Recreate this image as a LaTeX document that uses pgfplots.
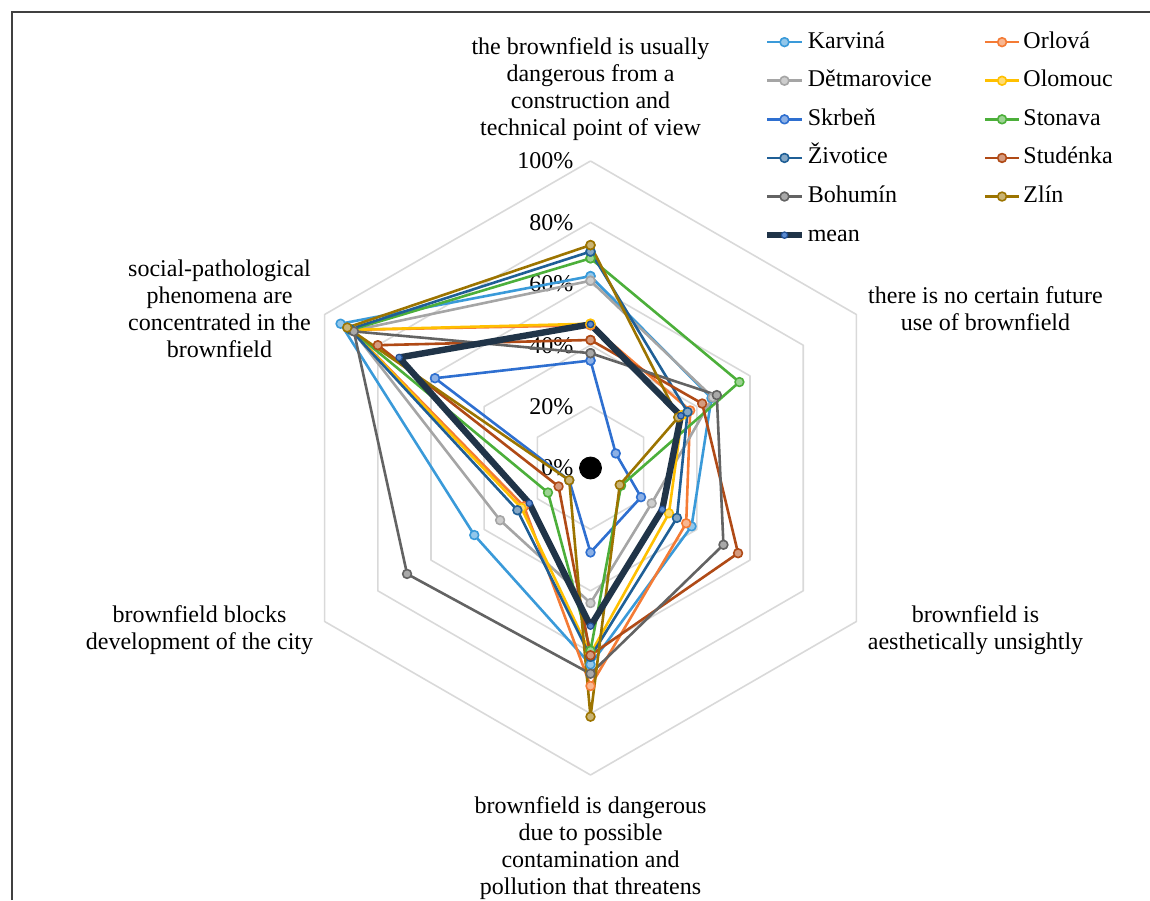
\documentclass[border=0pt]{standalone}
\usepackage{fontspec}
\setmainfont{Liberation Serif}
\usepackage{pgfplots}
\pgfplotsset{compat=1.18}
\usepgfplotslibrary{polar}
\usetikzlibrary{calc}

\definecolor{karv}{HTML}{3A9AD9}
\definecolor{orlo}{HTML}{F47B35}
\definecolor{detm}{HTML}{A5A5A5}
\definecolor{olom}{HTML}{FFC000}
\definecolor{skrb}{HTML}{2E6FD0}
\definecolor{ston}{HTML}{4CAF3A}
\definecolor{zivo}{HTML}{1F5F96}
\definecolor{stud}{HTML}{B04A16}
\definecolor{bohu}{HTML}{636363}
\definecolor{zlin}{HTML}{9C7400}
\definecolor{meanc}{HTML}{203448}
\definecolor{meanm}{HTML}{5B8BD0}
\definecolor{gridc}{HTML}{D9D9D9}

\pgfplotsset{
  ser/.style={#1, line width=1.3pt, line join=round, mark=*, mark size=2.2pt,
    mark options={fill=#1!55!white, draw=#1, line width=0.8pt}},
  ring/.style={gridc, line width=0.8pt, line join=round, no marks, forget plot},
}

\begin{document}
\begin{tikzpicture}[font=\fontsize{12}{13.5}\selectfont]
\begin{polaraxis}[
  width=307pt, height=307pt, scale only axis,
  ymin=0, ymax=100,
  hide axis, clip=false,
  legend columns=2,
  legend cell align=left,
  legend style={draw=none, fill=none, at={(0.7725,1.2268)}, anchor=north west,
    font=\fontsize{12}{13.5}\selectfont, row sep=3.3pt,
    nodes={inner xsep=1.5pt, inner ysep=2pt, text height=9pt, text depth=3pt},
    /tikz/every even column/.append style={column sep=24.5pt}},
]
% hexagonal grid
\addplot[ring] coordinates {(90,20)(30,20)(-30,20)(-90,20)(-150,20)(150,20)(90,20)};
\addplot[ring] coordinates {(90,40)(30,40)(-30,40)(-90,40)(-150,40)(150,40)(90,40)};
\addplot[ring] coordinates {(90,60)(30,60)(-30,60)(-90,60)(-150,60)(150,60)(90,60)};
\addplot[ring] coordinates {(90,80)(30,80)(-30,80)(-90,80)(-150,80)(150,80)(90,80)};
\addplot[ring] coordinates {(90,100)(30,100)(-30,100)(-90,100)(-150,100)(150,100)(90,100)};

% value labels, under the series
\node[anchor=east, xshift=-5pt] at (axis cs:90,0) {0\%};
\node[anchor=east, xshift=-5pt] at (axis cs:90,20) {20\%};
\node[anchor=east, xshift=-5pt] at (axis cs:90,40) {40\%};
\node[anchor=east, xshift=-5pt] at (axis cs:90,60) {60\%};
\node[anchor=east, xshift=-5pt] at (axis cs:90,80) {80\%};
\node[anchor=east, xshift=-5pt] at (axis cs:90,100) {100\%};

% axes order: top, upper right, lower right, bottom, lower left, upper left
\addplot[ser=karv] coordinates {(90,62.5)(30,45.5)(-30,38)(-90,64)(-150,43.7)(150,94)(90,62.5)};
\addlegendentry{Karviná}
\addplot[ser=orlo] coordinates {(90,46.5)(30,37.5)(-30,36)(-90,71)(-150,25)(150,90)(90,46.5)};
\addlegendentry{Orlová}
\addplot[ser=detm] coordinates {(90,61)(30,46)(-30,23)(-90,44)(-150,34)(150,89.5)(90,61)};
\addlegendentry{Dětmarovice}
\addplot[ser=olom] coordinates {(90,47)(30,34.5)(-30,29.5)(-90,60.5)(-150,26)(150,90)(90,47)};
\addlegendentry{Olomouc}
\addplot[ser=skrb] coordinates {(90,35)(30,9.5)(-30,19)(-90,27.5)(-150,8)(150,58.5)(90,35)};
\addlegendentry{Skrbeň}
\addplot[ser=ston] coordinates {(90,68.3)(30,56)(-30,11.5)(-90,59.5)(-150,16)(150,90)(90,68.3)};
\addlegendentry{Stonava}
\addplot[ser=zivo] coordinates {(90,70.5)(30,36.5)(-30,32.5)(-90,61.5)(-150,27.5)(150,90.5)(90,70.5)};
\addlegendentry{Životice}
\addplot[ser=stud] coordinates {(90,41.7)(30,42)(-30,55.5)(-90,61)(-150,12)(150,80)(90,41.7)};
\addlegendentry{Studénka}
\addplot[ser=bohu] coordinates {(90,37.4)(30,47.5)(-30,50)(-90,67)(-150,69)(150,89)(90,37.4)};
\addlegendentry{Bohumín}
\addplot[ser=zlin] coordinates {(90,72.6)(30,33)(-30,11)(-90,81)(-150,8)(150,91.5)(90,72.6)};
\addlegendentry{Zlín}
\addplot[meanc, line width=3.2pt, line join=round, mark=*, mark size=1.6pt,
  mark options={fill=meanm, draw=skrb!70!black, line width=0.6pt}]
  coordinates {(90,46.8)(30,34)(-30,27)(-90,51.5)(-150,23)(150,72)(90,46.8)};
\addlegendentry{mean}

\addplot[only marks, mark=*, black, mark size=5.5pt, forget plot] coordinates {(0,0)};
\coordinate (C) at (axis cs:0,0);
\end{polaraxis}

% category labels
\node[anchor=south, align=center] at ($(C)+(0pt,160pt)$)
  {the brownfield is usually\\dangerous from a\\construction and\\technical point of view};
\node[align=center] at ($(C)+(197.5pt,79.75pt)$)
  {there is no certain future\\use of brownfield};
\node[align=center] at ($(C)+(192.5pt,-81pt)$)
  {brownfield is\\aesthetically unsightly};
\node[anchor=north, align=center] at ($(C)+(0pt,-161pt)$)
  {brownfield is dangerous\\due to possible\\contamination and\\pollution that threatens};
\node[align=center] at ($(C)+(-195.5pt,-81pt)$)
  {brownfield blocks\\development of the city};
\node[align=center] at ($(C)+(-185.5pt,79.75pt)$)
  {social-pathological\\phenomena are\\concentrated in the\\brownfield};

\draw[black!75, line width=0.7pt] ($(C)+(-289.25pt,-216pt)$) -- ($(C)+(-289.25pt,228pt)$) -- ($(C)+(279.75pt,228pt)$);

\pgfresetboundingbox
\path[use as bounding box] ($(C)+(-295.25pt,-216pt)$) rectangle ($(C)+(279.75pt,234pt)$);
\end{tikzpicture}
\end{document}
